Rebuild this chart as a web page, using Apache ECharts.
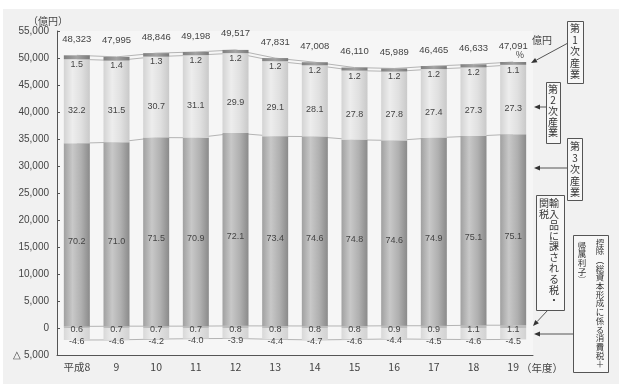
<!DOCTYPE html>
<html><head><meta charset="utf-8">
<script src="https://cdn.jsdelivr.net/npm/echarts@6/dist/echarts.min.js"></script>
<style>html,body{margin:0;padding:0;background:#fff}#c{width:619px;height:387px}</style>
</head><body><div id="c"></div>
<script>
// ---- data ----
const categories = ['平成8','9','10','11','12','13','14','15','16','17','18','19'];
const totals = [48323,47995,48846,49198,49517,47831,47008,46110,45989,46465,46633,47091];
const primaryPct = [1.5,1.4,1.3,1.2,1.2,1.2,1.2,1.2,1.2,1.2,1.2,1.1];
const secondaryPct = [32.2,31.5,30.7,31.1,29.9,29.1,28.1,27.8,27.8,27.4,27.3,27.3];
const tertiaryPct = [70.2,71.0,71.5,70.9,72.1,73.4,74.6,74.8,74.6,74.9,75.1,75.1];
const importTaxPct = [0.6,0.7,0.7,0.7,0.8,0.8,0.8,0.8,0.9,0.9,1.1,1.1];
const deductionPct = [-4.6,-4.6,-4.2,-4.0,-3.9,-4.4,-4.7,-4.6,-4.4,-4.5,-4.6,-4.5];
const yMin = -5000, yMax = 55000, yStep = 5000;

// ---- derived amounts (億円) ----
const amt = pct => pct.map((p, i) => totals[i] * p / 100);
const importAmt = amt(importTaxPct);
const tertiaryAmt = amt(tertiaryPct);
const secondaryAmt = amt(secondaryPct);
const primaryAmt = amt(primaryPct);
const deductionAmt = amt(deductionPct);
const cum1 = importAmt.map((v, i) => v + tertiaryAmt[i]);
const cum2 = cum1.map((v, i) => v + secondaryAmt[i]);
const cum3 = cum2.map((v, i) => v + primaryAmt[i]);

const JP = '"Noto Sans CJK JP", sans-serif';
const NUM = '"Liberation Sans", Arial, sans-serif';
const TXT = '#444';

function grad(stops) {
  return { type: 'linear', x: 0, y: 0, x2: 1, y2: 0,
    colorStops: stops.map((c, i) => ({ offset: i / (stops.length - 1), color: c })) };
}
function pctLabel(arr, dy) {
  return { show: true, position: 'inside', offset: [0, dy], color: TXT,
    fontSize: 9, fontFamily: NUM, formatter: p => arr[p.dataIndex].toFixed(1) };
}
function bar(name, data, color, label) {
  return { name, type: 'bar', stack: 'a', data, barWidth: 26, z: 3,
    itemStyle: { color }, label, silent: true, animation: false };
}
function sline(data, label) {
  const s = { type: 'line', data, z: 1, symbol: 'circle', symbolSize: 0.1,
    itemStyle: { color: 'rgba(0,0,0,0)' }, lineStyle: { color: '#b4b4b4', width: 1 },
    silent: true, animation: false };
  if (label) s.label = label;
  return s;
}
function arrow(x1, y1, x2, y2) {
  const a = Math.atan2(y2 - y1, x2 - x1), L = 6, W = 2.5;
  const bx = x2 - L * Math.cos(a), by = y2 - L * Math.sin(a);
  const px = -Math.sin(a) * W, py = Math.cos(a) * W;
  return [
    { type: 'line', shape: { x1, y1, x2: bx, y2: by }, style: { stroke: '#555', lineWidth: 1 } },
    { type: 'polygon', shape: { points: [[x2, y2], [bx + px, by + py], [bx - px, by - py]] }, style: { fill: '#333' } }
  ];
}
function vtext(str, x, y, fs, lh) {
  return { type: 'text', x, y, style: { text: Array.from(str).join('\n'), align: 'center',
    verticalAlign: 'top', fontSize: fs, lineHeight: lh, fontFamily: JP, fill: '#333' } };
}
function box(x, y, w, h) {
  return { type: 'rect', shape: { x: x + 0.5, y: y + 0.5, width: w, height: h },
    style: { fill: '#f7f7f7', stroke: '#555', lineWidth: 1 } };
}
function htext(str, x, y, fs, align) {
  return { type: 'text', x, y, style: { text: str, align: align || 'left', verticalAlign: 'middle',
    fontSize: fs, fontFamily: JP, fill: TXT } };
}

const chart = echarts.init(document.getElementById('c'), null, { renderer: 'canvas' });
chart.setOption({
  backgroundColor: '#ffffff',
  animation: false,
  grid: { left: 57, right: 86, top: 31, bottom: 32, show: true, backgroundColor: '#f6f6f6', borderWidth: 0 },
  xAxis: {
    type: 'category', data: categories, position: 'bottom',
    axisLine: { onZero: false, lineStyle: { color: '#555', width: 1 } },
    axisTick: { show: false },
    axisLabel: { color: TXT, fontSize: 10.5, fontFamily: JP, margin: 7 }
  },
  yAxis: {
    type: 'value', min: yMin, max: yMax, interval: yStep,
    axisLine: { show: true, lineStyle: { color: '#555', width: 1 } },
    axisTick: { show: true, inside: true, length: 3, lineStyle: { color: '#555' } },
    splitLine: { show: false },
    axisLabel: { color: TXT, fontSize: 10, fontFamily: NUM, margin: 8,
      formatter: v => v < 0 ? '△ ' + Math.abs(v).toLocaleString('en-US') : v.toLocaleString('en-US') }
  },
  series: [
    bar('輸入品に課される税・関税', importAmt, '#bcbcbc', pctLabel(importTaxPct, 2.5)),
    bar('第3次産業', tertiaryAmt, grad(['#a0a0a0', '#c8c8c8', '#b0b0b0', '#8a8a8a']), pctLabel(tertiaryPct, 7)),
    bar('第2次産業', secondaryAmt, grad(['#d3d3d3', '#ededed', '#e0e0e0', '#c9c9c9']), pctLabel(secondaryPct, 9)),
    bar('第1次産業', primaryAmt, grad(['#808080', '#a4a4a4', '#7a7a7a']), pctLabel(primaryPct, 7)),
    bar('控除', deductionAmt, grad(['#d8d8d8', '#ececec', '#dedede', '#d2d2d2']), pctLabel(deductionPct, 7.5)),
    sline(importAmt),
    sline(cum1),
    sline(cum2),
    sline(cum3, { show: true, position: 'top', distance: 11, color: TXT, fontSize: 9.5, fontFamily: NUM,
      formatter: p => totals[p.dataIndex].toLocaleString('en-US') }),
    sline(deductionAmt)
  ],
  graphic: [
    { type: 'rect', z: -10, shape: { x: 3, y: 9, width: 616, height: 375 }, style: { fill: '#f1f1f1' } },
    htext('（億円）', 28, 21, 10),
    htext('億円', 532, 40, 10),
    htext('%', 520, 55, 9, 'center'),
    htext('（年度）', 521, 368, 10.5),
    box(567, 21, 16, 62), vtext('第1次産業', 575, 22.5, 10, 11.5),
    ...arrow(568, 43, 531, 63),
    box(546, 82, 14, 61), vtext('第2次産業', 553, 84, 10, 10.8),
    ...arrow(546, 107, 534, 107),
    box(567, 138, 15, 62), vtext('第3次産業', 575, 140.5, 10, 11.5),
    ...arrow(567, 168, 534, 168),
    box(536, 195, 28, 115),
    vtext('輸入品に課される税・', 554, 198, 10, 10.8),
    vtext('関税', 544, 198, 10, 10.8),
    ...arrow(548, 310, 533, 326),
    box(573, 235, 35, 137),
    vtext('控除︵総資本形成に係る消費税＋', 600, 238, 8.5, 8.7),
    vtext('帰属利子︶', 582, 241, 8.5, 8.7),
    ...arrow(573, 334, 534, 334)
  ]
});
</script></body></html>
